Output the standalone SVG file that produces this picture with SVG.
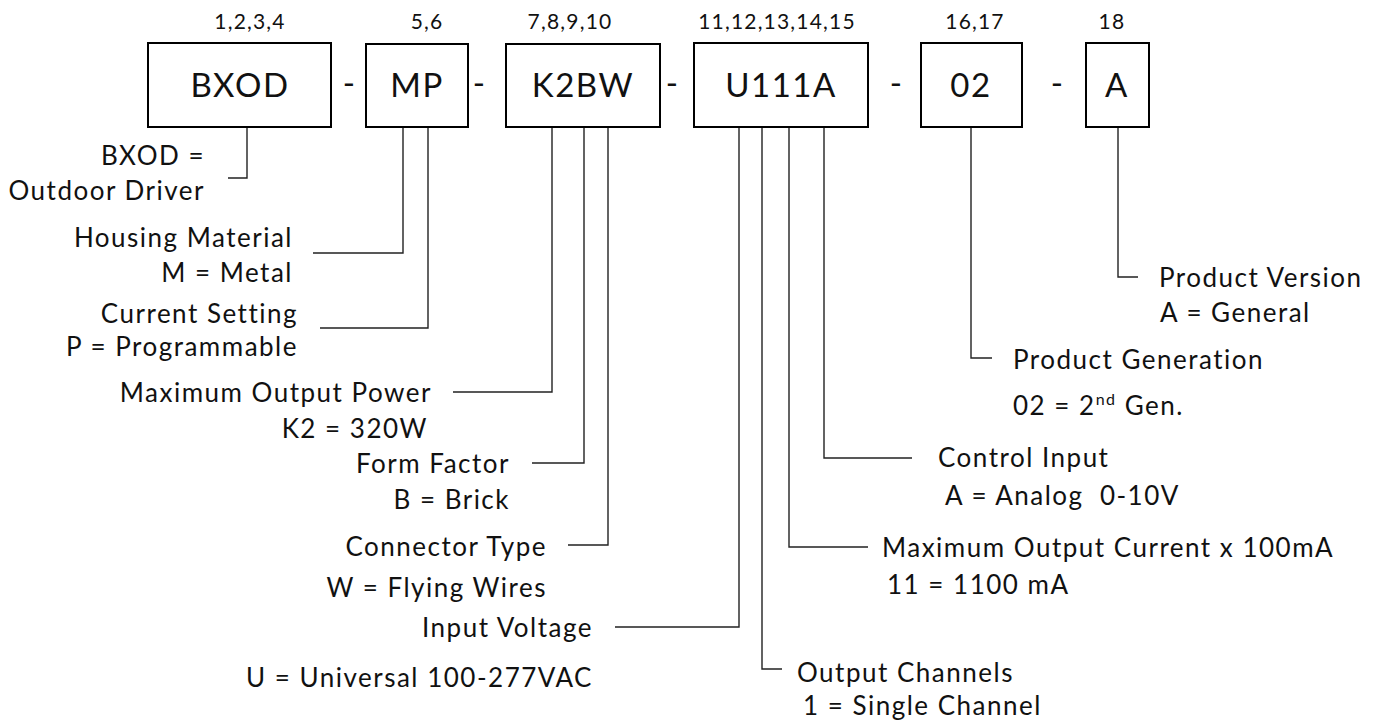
<svg xmlns="http://www.w3.org/2000/svg" width="1381" height="723" viewBox="0 0 1381 723">
<style>
text{font-family:Lato,"Open Sans","Liberation Sans",sans-serif;fill:#111;}
.pos{font-size:21px;letter-spacing:1.2px;text-anchor:middle;}
.code{font-size:33px;letter-spacing:1.5px;text-anchor:middle;}
.dash{font-size:33px;text-anchor:middle;}
.box{fill:#fff;stroke:#000;stroke-width:2;}
.lbl{font-size:26px;letter-spacing:1.5px;white-space:pre;}
.r{text-anchor:end;}
.conn{fill:none;stroke:#222;stroke-width:1.4;}
</style>
<rect width="1381" height="723" fill="#fff"/>
<g id="connectors">
<polyline class="conn" points="247,127 247,178 228,178"/>
<polyline class="conn" points="403,127 403,253 313,253"/>
<polyline class="conn" points="428,127 428,328 320,328"/>
<polyline class="conn" points="552,127 552,392 453,392"/>
<polyline class="conn" points="584,127 584,463 532,463"/>
<polyline class="conn" points="608,127 608,545 568,545"/>
<polyline class="conn" points="739,127 739,627 615,627"/>
<polyline class="conn" points="762,127 762,669 782,669"/>
<polyline class="conn" points="789,127 789,547 868,547"/>
<polyline class="conn" points="824,127 824,458 912,458"/>
<polyline class="conn" points="971,127 971,358 992,358"/>
<polyline class="conn" points="1118,127 1118,277 1138,277"/>
</g>
<g id="seg-bxod">
<text class="pos" x="250" y="29">1,2,3,4</text>
<rect class="box" x="148" y="43" width="183" height="84"/>
<text class="code" x="240" y="97">BXOD</text>
</g>
<text class="dash" x="349" y="95">-</text>
<g id="seg-mp">
<text class="pos" x="427" y="29">5,6</text>
<rect class="box" x="366" y="44" width="102" height="83"/>
<text class="code" x="417" y="97">MP</text>
</g>
<text class="dash" x="479" y="95">-</text>
<g id="seg-k2bw">
<text class="pos" x="570" y="29">7,8,9,10</text>
<rect class="box" x="506" y="44" width="154" height="83"/>
<text class="code" x="583" y="97">K2BW</text>
</g>
<text class="dash" x="672" y="95">-</text>
<g id="seg-u111a">
<text class="pos" x="777" y="29">11,12,13,14,15</text>
<rect class="box" x="694" y="43" width="174" height="84"/>
<text class="code" x="781" y="97">U111A</text>
</g>
<text class="dash" x="896" y="95">-</text>
<g id="seg-02">
<text class="pos" x="975" y="29">16,17</text>
<rect class="box" x="921" y="43" width="101" height="84"/>
<text class="code" x="971" y="97">02</text>
</g>
<text class="dash" x="1057" y="95">-</text>
<g id="seg-a">
<text class="pos" x="1112" y="29">18</text>
<rect class="box" x="1086" y="43" width="63" height="84"/>
<text class="code" x="1117" y="97">A</text>
</g>
<g id="lbl-bxod">
<text class="lbl r" x="205" y="165">BXOD =</text>
<text class="lbl r" x="205" y="200">Outdoor Driver</text>
</g>
<g id="lbl-housing">
<text class="lbl r" x="293" y="247">Housing Material</text>
<text class="lbl r" x="293" y="282">M = Metal</text>
</g>
<g id="lbl-current">
<text class="lbl r" x="298" y="323">Current Setting</text>
<text class="lbl r" x="298" y="356">P = Programmable</text>
</g>
<g id="lbl-power">
<text class="lbl r" x="432" y="402">Maximum Output Power</text>
<text class="lbl r" x="428" y="438">K2 = 320W</text>
</g>
<g id="lbl-form">
<text class="lbl r" x="510" y="473">Form Factor</text>
<text class="lbl r" x="510" y="509">B = Brick</text>
</g>
<g id="lbl-connector">
<text class="lbl r" x="547" y="556">Connector Type</text>
<text class="lbl r" x="547" y="597">W = Flying Wires</text>
</g>
<g id="lbl-input">
<text class="lbl r" x="593" y="637">Input Voltage</text>
<text class="lbl r" x="593" y="687">U = Universal 100-277VAC</text>
</g>
<g id="lbl-channels">
<text class="lbl" x="797" y="682">Output Channels</text>
<text class="lbl" x="803" y="715">1 = Single Channel</text>
</g>
<g id="lbl-maxcurrent">
<text class="lbl" x="882" y="557">Maximum Output Current x 100mA</text>
<text class="lbl" x="887" y="594">11 = 1100 mA</text>
</g>
<g id="lbl-control">
<text class="lbl" x="938" y="467">Control Input</text>
<text class="lbl" x="945" y="505">A = Analog  0-10V</text>
</g>
<g id="lbl-generation">
<text class="lbl" x="1013" y="369">Product Generation</text>
<text class="lbl" x="1013" y="415">02 = 2<tspan font-size="16" dy="-10">nd</tspan><tspan dy="10"> Gen.</tspan></text>
</g>
<g id="lbl-version">
<text class="lbl" x="1159" y="287">Product Version</text>
<text class="lbl" x="1160" y="322">A = General</text>
</g>
</svg>
